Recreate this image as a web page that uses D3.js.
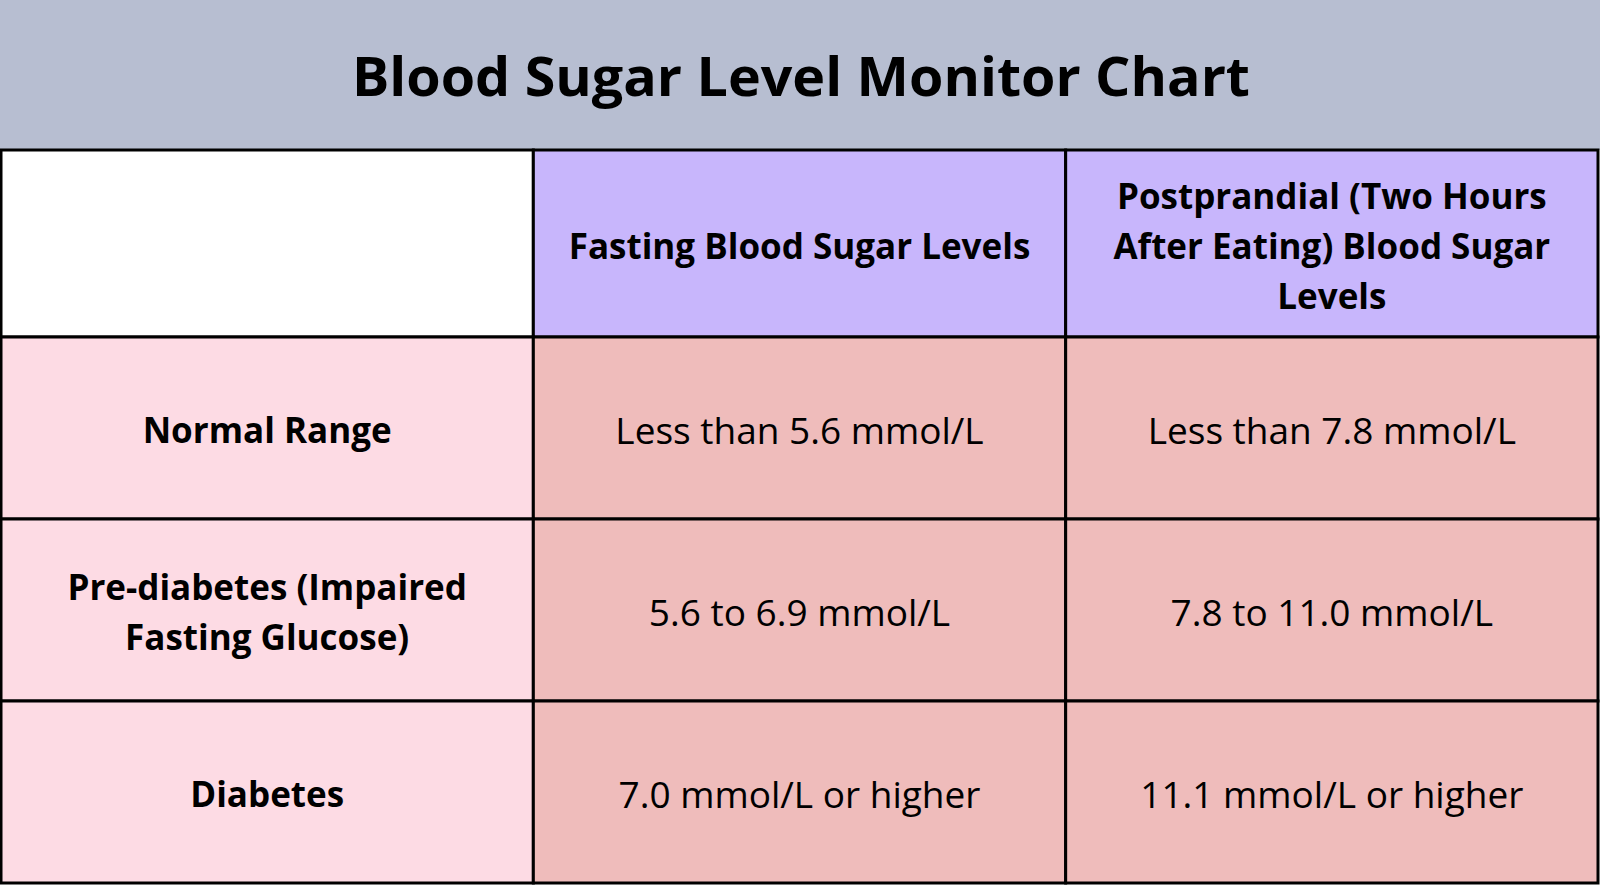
<!DOCTYPE html>
<html>
<head>
<meta charset="utf-8">
<script src="https://cdn.jsdelivr.net/npm/d3@7"></script>
<style>
  html, body { margin: 0; padding: 0; background: #ffffff; }
  svg { display: block; }
</style>
</head>
<body>
<svg id="chart" width="1600" height="886"></svg>
<script>
const title = "Blood Sugar Level Monitor Chart";
const columnHeaders = ["", "Fasting Blood Sugar Levels", "Postprandial (Two Hours\nAfter Eating) Blood Sugar\nLevels"];
const rowLabels = ["Normal Range", "Pre-diabetes (Impaired\nFasting Glucose)", "Diabetes"];
const fastingValues = ["Less than 5.6 mmol/L", "5.6 to 6.9 mmol/L", "7.0 mmol/L or higher"];
const postprandialValues = ["Less than 7.8 mmol/L", "7.8 to 11.0 mmol/L", "11.1 mmol/L or higher"];

const W = 1600, H = 886;
const svg = d3.select("#chart");

// Title band
svg.append("rect").attr("x", 0).attr("y", 0).attr("width", W).attr("height", 150).attr("fill", "#b7bed1");
svg.append("text")
  .attr("x", 801).attr("y", 96)
  .attr("text-anchor", "middle")
  .attr("font-family", "'Open Sans', sans-serif")
  .attr("font-weight", 700)
  .attr("font-size", 54)
  .attr("textLength", 898)
  .attr("lengthAdjust", "spacingAndGlyphs")
  .attr("fill", "#000")
  .text(title);

const colKeys = [0, 1, 2];
const x = d3.scaleBand().domain(colKeys).range([1, 1598]);
const headerTop = 150, headerBottom = 337;
const y = d3.scaleBand().domain(d3.range(rowLabels.length)).range([headerBottom, 883]);

const cells = [];
columnHeaders.forEach((h, c) => cells.push({
  c, y0: headerTop, y1: headerBottom, text: h, bold: true,
  fill: c === 0 ? "#ffffff" : "#c8b6fc"
}));
rowLabels.forEach((lab, r) => {
  const y0 = y(r), y1 = y(r) + y.bandwidth();
  cells.push({ c: 0, y0, y1, text: lab, bold: true, fill: "#fddbe4" });
  cells.push({ c: 1, y0, y1, text: fastingValues[r], bold: false, fill: "#efbcbb" });
  cells.push({ c: 2, y0, y1, text: postprandialValues[r], bold: false, fill: "#efbcbb" });
});

const g = svg.append("g");
const cg = g.selectAll("g.cell").data(cells).join("g").attr("class", "cell");
cg.append("rect")
  .attr("x", d => x(d.c)).attr("y", d => d.y0)
  .attr("width", x.bandwidth()).attr("height", d => d.y1 - d.y0)
  .attr("fill", d => d.fill)
  .attr("stroke", "#000").attr("stroke-width", 3);

const lineH = 50;
cg.each(function(d) {
  if (!d.text) return;
  const lines = d.text.split("\n");
  const cx = x(d.c) + x.bandwidth() / 2;
  const cy = (d.y0 + d.y1) / 2 + 3;
  const t = d3.select(this).append("text")
    .attr("text-anchor", "middle")
    .attr("font-family", "'Open Sans', sans-serif")
    .attr("font-weight", d.bold ? 700 : 400)
    .attr("font-size", d.bold ? 35 : 37)
    .attr("fill", "#000");
  lines.forEach((ln, i) => {
    t.append("tspan")
      .attr("x", cx)
      .attr("y", cy + (i - (lines.length - 1) / 2) * lineH)
      .attr("dy", "0.35em")
      .text(ln);
  });
});
</script>
</body>
</html>
